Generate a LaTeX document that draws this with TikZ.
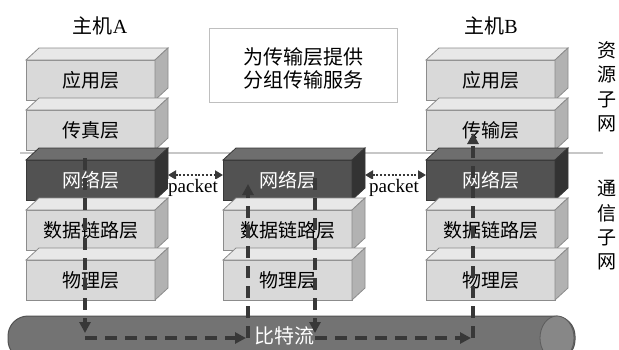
\documentclass[tikz,border=0pt]{standalone}
\usepackage{fontspec}
\setmainfont{Liberation Serif}
\newfontfamily\cjk{Noto Sans CJK SC}
\usetikzlibrary{arrows.meta}
\newcommand\layerbox[5]{%
  \node[#5box] (#1) at (#2,#3) {#4};
  \filldraw[#5top] (#1.north west) -- ++(13,-12) -- ++(129,0) -- (#1.north east) -- cycle;
  \filldraw[#5side] (#1.north east) -- ++(13,-12) -- ++(0,40) -- (#1.south east) -- cycle;
}
\begin{document}
\begin{tikzpicture}[x=1pt,y=-1pt,
  basebox/.style={minimum width=129pt, minimum height=40pt, inner sep=0pt, outer sep=0pt,
    anchor=north west, line width=0.8pt, font=\cjk\fontsize{19}{22}\selectfont},
  lbox/.style={basebox, draw=black!45, fill=black!15},
  ltop/.style={draw=black!45, line width=0.8pt, fill=black!9},
  lside/.style={draw=black!45, line width=0.8pt, fill=black!30},
  dbox/.style={basebox, draw=black!78, fill=black!68, text=white},
  dtop/.style={draw=black!78, line width=0.8pt, fill=black!57},
  dside/.style={draw=black!78, line width=0.8pt, fill=black!80},
  flow/.style={draw=black!78, line width=3.5pt, dash pattern=on 12pt off 8pt},
  tip/.style={-{Triangle[length=11pt,width=11pt]}},
  pk/.style={draw=black!78, line width=2.5pt, dash pattern=on 2pt off 1.8pt,
    {Triangle[length=8pt,width=9pt]}-{Triangle[length=8pt,width=9pt]}},
  pklabel/.style={font=\fontsize{19}{21}\selectfont, fill=white, inner sep=0.5pt},
  title/.style={font=\fontsize{20}{22}\selectfont},
  side/.style={font=\cjk\fontsize{19}{22}\selectfont, inner sep=0pt}
]
\fill[white] (0,0) rectangle (619,349);
\useasboundingbox (0,0) rectangle (619,349);

% separator line
\draw[black!22, line width=1.2pt] (20,153) -- (603,153);

% titles
\node[title] (ta) at (100,26) {{\cjk 主机}A};
\node[title] (tbb) at (491,26) {{\cjk 主机}B};

% text box
\node[draw=black!25, fill=white, line width=1pt, minimum width=188pt, minimum height=74pt, inner sep=0pt] (tb) at (303,65) {};
\node[font=\cjk\fontsize{20}{23}\selectfont, align=center] (tbt) at ([yshift=-3.5pt]tb.center) {为传输层提供\\分组传输服务};

% side labels
\foreach \c/\yy [count=\i] in {资/50,源/74,子/100,网/124}{\node[side] (r\i) at (607,\yy) {\c};}
\foreach \c/\yy [count=\i] in {通/188,信/213,子/238,网/262}{\node[side] (c\i) at (607,\yy) {\c};}

% tube
\filldraw[fill=black!55, draw=black!68, line width=1pt, rounded corners=20pt] (8,316) rectangle (575,360);
\filldraw[fill=black!47, draw=black!64, line width=0.8pt] (557,338) ellipse [x radius=17pt, y radius=22pt];
\node[font=\cjk\fontsize{20}{22}\selectfont, text=white] (bits) at (284,336) {比特流};

% host A
\layerbox{a1}{26}{60}{应用层}{l}
\layerbox{a2}{26}{110}{传真层}{l}
\layerbox{a3}{26}{160}{网络层}{d}
\layerbox{a4}{26}{210}{数据链路层}{l}
\layerbox{a5}{26}{260}{物理层}{l}
% middle
\layerbox{m3}{223}{160}{网络层}{d}
\layerbox{m4}{223}{210}{数据链路层}{l}
\layerbox{m5}{223}{260}{物理层}{l}
% host B
\layerbox{b1}{426}{60}{应用层}{l}
\layerbox{b2}{426}{110}{传输层}{l}
\layerbox{b3}{426}{160}{网络层}{d}
\layerbox{b4}{426}{210}{数据链路层}{l}
\layerbox{b5}{426}{260}{物理层}{l}

% packet links
\draw[pk] ([xshift=13pt,yshift=5pt]a3.east) -- ([yshift=5pt]m3.west);
\draw[pk] ([xshift=13pt,yshift=5pt]m3.east) -- ([yshift=5pt]b3.west);
\node[pklabel] (p1) at (193,188) {packet};
\node[pklabel] (p2) at (394,188) {packet};

% bit flow paths
\coordinate (fa1) at (85,158);
\coordinate (fa2) at (85,333);
\coordinate (fa3) at (85,338);
\coordinate (fm1) at (248,338);
\coordinate (fm2) at (248,184);
\coordinate (fm3) at (315,178);
\coordinate (fm4) at (315,333);
\coordinate (fm5) at (315,338);
\coordinate (fb1) at (473,338);
\coordinate (fb2) at (473,133);

\draw[flow, tip] (fa1) -- (fa2);
\draw[flow, tip] (fa3) -- ([xshift=-2pt]fm1);
\draw[flow, tip] (fm1) -- (fm2);
\draw[flow, tip] (fm3) -- (fm4);
\draw[flow, tip] (fm5) -- ([xshift=-2pt]fb1);
\draw[flow, tip] (fb1) -- (fb2);
\end{tikzpicture}
\end{document}
